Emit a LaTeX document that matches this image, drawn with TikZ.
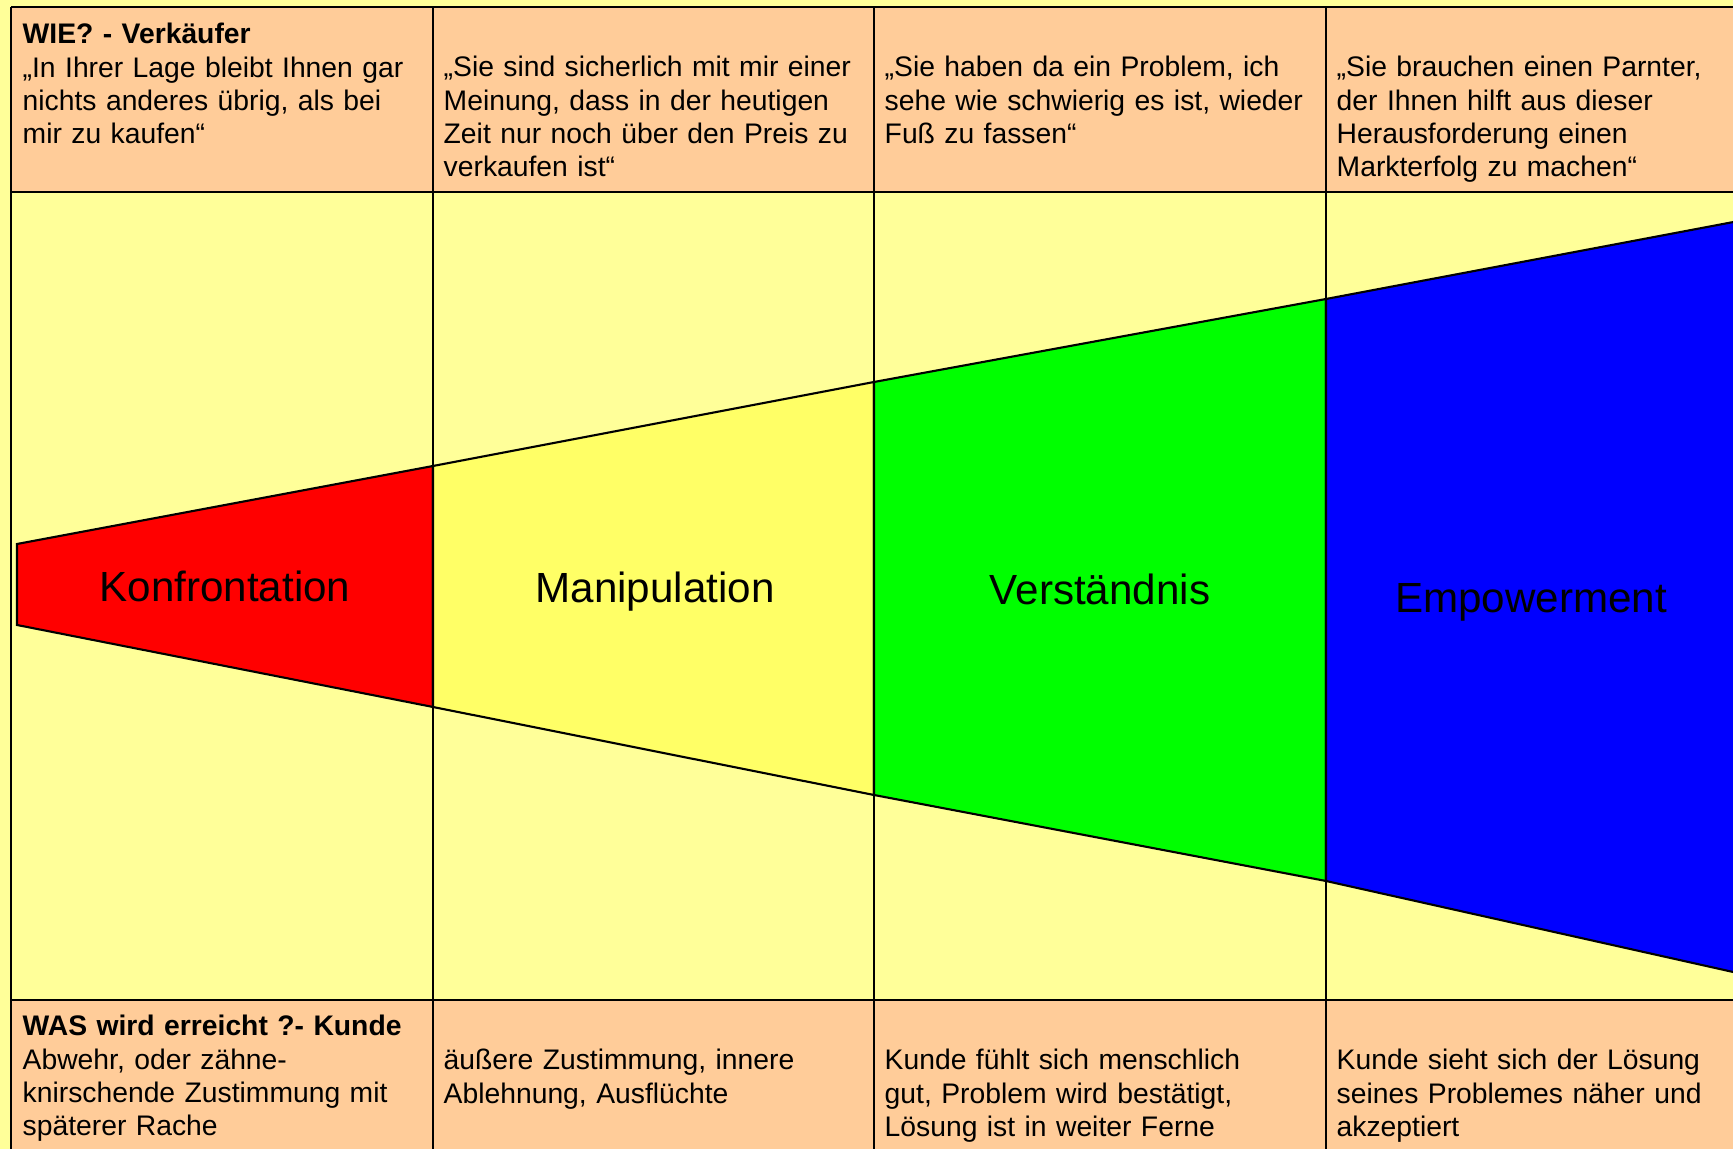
\documentclass[tikz,border=0pt]{standalone}
\usepackage{fontspec}
\setmainfont{Liberation Sans}

\definecolor{bgyellow}{HTML}{FFFF99}
\definecolor{cellorange}{HTML}{FFCC99}
\definecolor{midyellow}{HTML}{FFFF66}

\tikzset{
  celltext/.style={anchor=north west, inner sep=0pt, text width=4.6cm, align=left,
    font=\fontsize{8.05}{9.5}\selectfont},
  phase/.style={anchor=base, inner sep=0pt, font=\fontsize{12}{14}\selectfont},
  stage/.style={draw, line width=0.6pt, line join=miter},
  grid/.style={line width=0.45pt}
}

\begin{document}
\begin{tikzpicture}[x=0.1mm, y=-0.1mm]

  \useasboundingbox (0,0) rectangle (1733,1149);
  \fill[bgyellow] (0,0) rectangle (1733,1149);

  % header and footer rows
  \fill[cellorange] (11,7) rectangle (1760,192);
  \fill[cellorange] (11,1000) rectangle (1760,1170);

  \draw[grid] (11,7) -- (1760,7);
  \draw[grid] (11,192) -- (1760,192);
  \draw[grid] (11,1000) -- (1760,1000);

  \draw[grid] (11,7) -- (11,1170);
  \draw[grid] (433,7) -- (433,1170);
  \draw[grid] (874,7) -- (874,1170);
  \draw[grid] (1326,7) -- (1326,1170);

  % the funnel
  \draw[stage, fill=red] (17,544) -- (433,466) -- (433,707) -- (17,625) -- cycle;
  \draw[stage, fill=midyellow] (433,466) -- (874,382) -- (874,795) -- (433,707) -- cycle;
  \draw[stage, fill=green] (874,382) -- (1326,299) -- (1326,881) -- (874,795) -- cycle;
  \draw[stage, fill=blue] (1326,299) -- (1760,217) -- (1760,978) -- (1326,881) -- cycle;

  \node[phase] (konf) at (225,602) {Konfrontation};
  \node[phase] (mani) at (655,603) {Manipulation};
  \node[phase] (verst) at (1100,605) {Verständnis};
  \node[phase] (empow) at (1531,613) {Empowerment};

  % WIE? row
  \node[celltext] (wieA) at (22,19.6) {\strut\textbf{WIE? - Verkäufer}\\
    „In Ihrer Lage bleibt Ihnen gar\\ nichts anderes übrig, als bei\\ mir zu kaufen“};
  \node[celltext] (wieB) at (443,52.6) {\strut„Sie sind sicherlich mit mir einer\\
    Meinung, dass in der heutigen\\ Zeit nur noch über den Preis zu\\ verkaufen ist“};
  \node[celltext] (wieC) at (884,52.6) {\strut„Sie haben da ein Problem, ich\\
    sehe wie schwierig es ist, wieder\\ Fuß zu fassen“};
  \node[celltext] (wieD) at (1336,52.6) {\strut„Sie brauchen einen Parnter,\\
    der Ihnen hilft aus dieser\\ Herausforderung einen\\ Markterfolg zu machen“};

  % WAS row
  \node[celltext] (wasA) at (22,1011.6) {\strut\textbf{WAS wird erreicht ?- Kunde}\\
    Abwehr, oder zähne-\\ knirschende Zustimmung mit\\ späterer Rache};
  \node[celltext] (wasB) at (443,1045.6) {\strut äußere Zustimmung, innere\\
    Ablehnung, Ausflüchte};
  \node[celltext] (wasC) at (884,1045.6) {\strut Kunde fühlt sich menschlich\\
    gut, Problem wird bestätigt,\\ Lösung ist in weiter Ferne};
  \node[celltext] (wasD) at (1336,1045.6) {\strut Kunde sieht sich der Lösung\\
    seines Problemes näher und\\ akzeptiert};

\end{tikzpicture}
\end{document}
